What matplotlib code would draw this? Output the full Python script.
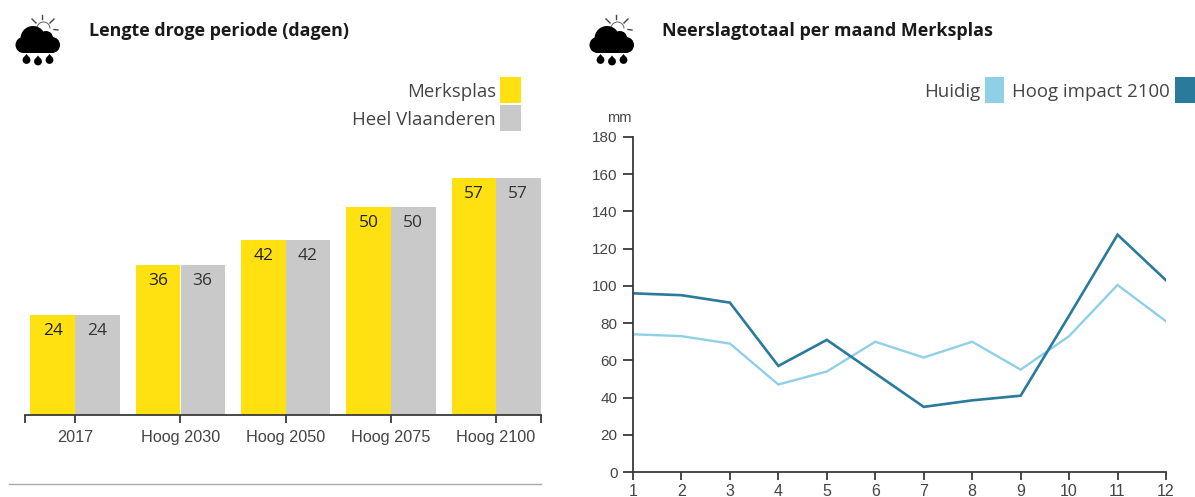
import matplotlib
matplotlib.use("Agg")
import matplotlib.pyplot as plt
from matplotlib.patches import Circle, Rectangle, Polygon, Wedge

# data
periods = ["2017", "Hoog 2030", "Hoog 2050", "Hoog 2075", "Hoog 2100"]
merksplas = [24, 36, 42, 50, 57]
vlaanderen = [24, 36, 42, 50, 57]

months = [1, 2, 3, 4, 5, 6, 7, 8, 9, 10, 11, 12]
huidig = [74, 73, 69, 47, 54, 70, 61.5, 70, 55, 73, 100.5, 81]
hoog_2100 = [96, 95, 91, 57, 71, 53, 35, 38.5, 41, 84, 127.5, 103]
mm_ticks = [0, 20, 40, 60, 80, 100, 120, 140, 160, 180]

YELLOW = "#ffe010"
GREY = "#c9c9c9"
LIGHT = "#8fd0e8"
DARK = "#2a7a9b"
AXIS = "#3a3a3a"
TEXT = "#444444"
W, H = 1195, 497

plt.rcParams["font.family"] = ["Liberation Sans", "DejaVu Sans"]


def px_axes(fig, x0, y_top, x1, y_bot):
    return fig.add_axes([x0 / W, 1 - y_bot / H, (x1 - x0) / W, (y_bot - y_top) / H])


def draw_icon(ax, dx):
    # sun
    ax.add_patch(Wedge((43.5 + dx, 28.5), 7, 180, 360, width=1, color="#666666", lw=0))
    for x0, y0, x1, y1 in [(42.5, 15, 42.5, 19), (32, 19, 36, 23), (54, 19, 50, 23), (54, 29.5, 58, 30)]:
        ax.plot([x0 + dx, x1 + dx], [y0, y1], color="#444444", lw=1)
    # cloud
    for cx, cy, r in [(33, 38.5, 12.5), (23.5, 45, 8), (52, 45, 8), (46, 38, 7)]:
        ax.add_patch(Circle((cx + dx, cy), r, color="black", lw=0))
    ax.add_patch(Rectangle((24 + dx, 42), 28, 11, color="black", lw=0))
    # drops
    for cx, cy in [(26.5, 60), (38, 61.5), (49.5, 60)]:
        ax.add_patch(Circle((cx + dx, cy), 3.9, color="black", lw=0))
        ax.add_patch(Polygon([(cx + dx - 3.6, cy - 1.5), (cx + dx + 3.6, cy - 1.5), (cx + dx, cy - 6)],
                             color="black", lw=0))


fig = plt.figure(figsize=(W / 100, H / 100), dpi=100)

# overlay in pixel coordinates for header, legends and icons
over = fig.add_axes([0, 0, 1, 1])
over.set_xlim(0, W)
over.set_ylim(H, 0)
over.axis("off")
draw_icon(over, 0)
draw_icon(over, 574)
title_font = {"family": "Open Sans", "weight": "bold", "size": 12.9, "color": "#1a1a1a"}
over.text(89, 31, "Lengte droge periode (dagen)", va="center", **title_font)
over.text(662, 31, "Neerslagtotaal per maand Merksplas", va="center", **title_font)

leg_font = {"family": "Open Sans", "size": 13.4, "color": TEXT, "va": "center"}
over.text(496, 92, "Merksplas", ha="right", **leg_font)
over.text(496, 120, "Heel Vlaanderen", ha="right", **leg_font)
over.add_patch(Rectangle((500, 77), 21, 26, color=YELLOW, lw=0))
over.add_patch(Rectangle((500, 105), 21, 26, color=GREY, lw=0))
over.text(980, 92, "Huidig", ha="right", **leg_font)
over.text(1170, 92, "Hoog impact 2100", ha="right", **leg_font)
over.add_patch(Rectangle((985, 77), 19, 26, color=LIGHT, lw=0))
over.add_patch(Rectangle((1175, 77), 20, 26, color=DARK, lw=0))
over.plot([9, 541], [484, 484], color="#a8a8a8", lw=1)
over.text(632, 118, "mm", ha="right", va="center", fontsize=10.5, color=TEXT)

# bar chart
ax = px_axes(fig, 25, 140, 541, 415)
ax.patch.set_alpha(0)
step = 105.25
ax.set_xlim((25 - 75) / step, (541 - 75) / step)
ax.set_ylim(0, 275 / 4.16)
bw = 44.5 / step
xs = list(range(len(periods)))
ax.bar([x - bw / 2 for x in xs], merksplas, bw, color=YELLOW)
ax.bar([x + bw / 2 + 0.004 for x in xs], vlaanderen, bw, color=GREY)
for x, a, b in zip(xs, merksplas, vlaanderen):
    ax.annotate(str(a), (x - bw / 2, a), xytext=(0, -16), textcoords="offset pixels",
                ha="center", va="center", family="Open Sans", fontsize=12.5, color="#222222")
    ax.annotate(str(b), (x + bw / 2, b), xytext=(0, -16), textcoords="offset pixels",
                ha="center", va="center", family="Open Sans", fontsize=12.5, color="#333333")
for s in ["top", "left", "right"]:
    ax.spines[s].set_visible(False)
ax.spines["bottom"].set_color(AXIS)
ax.spines["bottom"].set_linewidth(1.3)
ax.set_yticks([])
ax.set_xticks(xs + [ax.get_xlim()[0], ax.get_xlim()[1]], periods + ["", ""])
ax.tick_params(axis="x", length=6, width=1.3, color=AXIS, labelsize=11.7, labelcolor=TEXT, pad=5)

# line chart
ax2 = px_axes(fig, 633, 137, 1166, 472)
ax2.patch.set_alpha(0)
ax2.set_xlim(1, 12)
ax2.set_ylim(0, 180)
ax2.plot(months, huidig, color=LIGHT, lw=1.7, solid_joinstyle="miter")
ax2.plot(months, hoog_2100, color=DARK, lw=1.9, solid_joinstyle="miter")
for s in ["top", "right"]:
    ax2.spines[s].set_visible(False)
for s in ["left", "bottom"]:
    ax2.spines[s].set_color(AXIS)
    ax2.spines[s].set_linewidth(1.3)
ax2.set_xticks(months)
ax2.set_yticks(mm_ticks)
ax2.tick_params(axis="y", length=7, width=1.3, color=AXIS, labelsize=11, labelcolor=TEXT, pad=4)
ax2.tick_params(axis="x", length=6, width=1.3, color=AXIS, labelsize=11.5, labelcolor=TEXT, pad=3)

fig.savefig("out.png", dpi=100)
